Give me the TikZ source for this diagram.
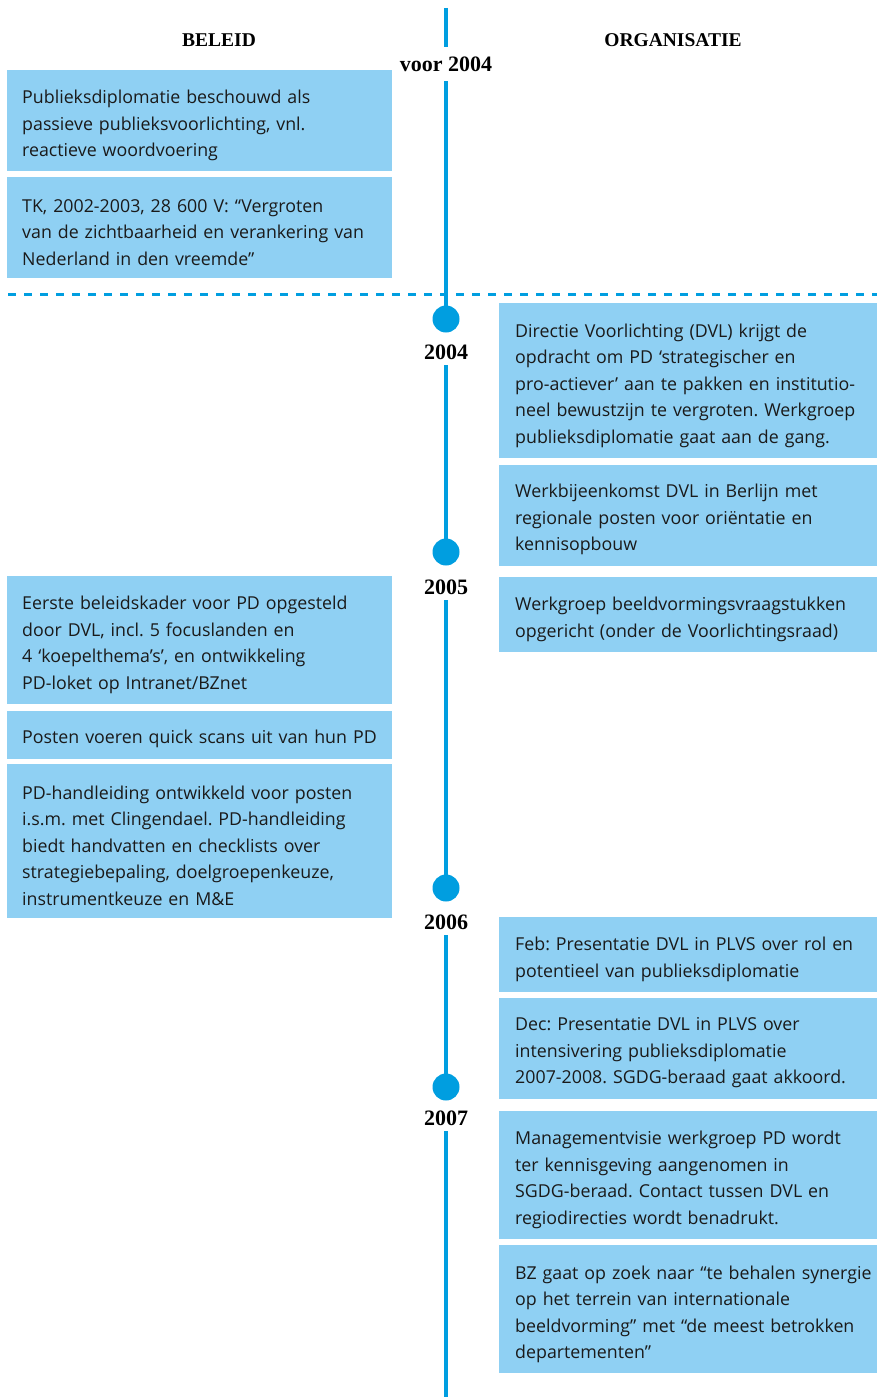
\documentclass[tikz,border=0pt]{standalone}
\usepackage{fontspec}
\setmainfont{Open Sans}
\newfontfamily\kopfont{Liberation Serif}
\usepackage{tikz}
\usetikzlibrary{positioning}

\definecolor{lijnblauw}{RGB}{0,158,224}
\definecolor{vakblauw}{RGB}{143,208,243}
\definecolor{tekstgrijs}{RGB}{26,26,26}

\tikzset{
	vak/.style={fill=vakblauw, anchor=north west, inner ysep=0pt, align=left,
		text=tekstgrijs, font=\fontsize{17.8}{26.5}\selectfont\frenchspacing,
		execute at begin node=\rule{0pt}{23pt}},
	lvak/.style={vak, inner xsep=15pt, text width=355pt},
	rvak/.style={vak, inner xsep=16pt, text width=372pt},
	kop/.style={font=\kopfont\bfseries\fontsize{19.5}{22}\selectfont},
	jaar/.style={font=\kopfont\bfseries\fontsize{22}{24}\selectfont, inner sep=0pt, minimum height=26pt},
	stip/.style={circle, fill=lijnblauw, minimum size=27pt, inner sep=0pt},
	tijdlijn/.style={draw=lijnblauw, line width=4pt},
}

\begin{document}
\begin{tikzpicture}[x=1pt, y=-1pt]
			
			\useasboundingbox (0,0) rectangle (877,1397);
			
			\def \xlijn {446} % x of the time line
			
			\node[kop] (beleid) at (219,40) {BELEID};
			\node[kop] (organisatie) at (673,40) {ORGANISATIE};
			
			% years on the time line
			\coordinate (lijnboven) at (\xlijn,8);
			\coordinate (lijnonder) at (\xlijn,1397);
			\node[jaar, minimum height=34pt] (voor) at (\xlijn,64) {voor 2004};
			\foreach \j/\ys/\yj in {2004/319/352, 2005/552/587, 2006/888/922, 2007/1087/1118}
			{
				\node[stip] (s\j) at (\xlijn,\ys) {};
				\node[jaar] (j\j) at (\xlijn,\yj) {\j};
			}
			\draw[tijdlijn] (lijnboven) -- (voor);
			\draw[tijdlijn] (voor) -- (s2004.center);
			\draw[tijdlijn] (j2004) -- (s2005.center);
			\draw[tijdlijn] (j2005) -- (s2006.center);
			\draw[tijdlijn] (j2006) -- (s2007.center);
			\draw[tijdlijn] (j2007) -- (lijnonder);
			
			\coordinate (grenslinks) at (8,294);
			\coordinate (grensrechts) at (877,294);
			\draw[lijnblauw, line width=3pt, dash pattern=on 8pt off 8pt] (grenslinks) -- (grensrechts);
			
			% beleid
			\node[lvak, minimum height=101pt] (beleid1) at (7,70)
				{Publieksdiplomatie beschouwd als\\passieve publieksvoorlichting, vnl.\\reactieve woordvoering};
			\node[lvak, minimum height=101pt, below=5pt of beleid1] (beleid2)
				{TK, 2002-2003, 28 600 V: “Vergroten\\van de zichtbaarheid en verankering van\\Nederland in den vreemde”};
			\node[lvak, minimum height=128pt] (beleid3) at (7,576)
				{Eerste beleidskader voor PD opgesteld\\door DVL, incl. 5 focuslanden en\\4 ‘koepelthema’s’, en ontwikkeling\\PD-loket op Intranet/BZnet};
			\node[lvak, minimum height=48pt, below=6pt of beleid3] (beleid4)
				{Posten voeren quick scans uit van hun PD};
			\node[lvak, minimum height=154pt, below=5pt of beleid4] (beleid5)
				{PD-handleiding ontwikkeld voor posten\\i.s.m. met Clingendael. PD-handleiding\\biedt handvatten en checklists over\\strategiebepaling, doelgroepenkeuze,\\instrumentkeuze en M\&E};
			
			% organisatie
			\node[rvak, minimum height=155pt] (org1) at (499,303)
				{Directie Voorlichting (DVL) krijgt de\\opdracht om PD ‘strategischer en\\pro-actiever’ aan te pakken en institutio-\\neel bewustzijn te vergroten. Werkgroep\\publieksdiplomatie gaat aan de gang.};
			\node[rvak, minimum height=101pt, below=6pt of org1] (org2)
				{Werkbijeenkomst DVL in Berlijn met\\regionale posten voor oriëntatie en\\kennisopbouw};
			\node[rvak, minimum height=75pt, below=11pt of org2] (org3)
				{Werkgroep beeldvormingsvraagstukken\\opgericht (onder de Voorlichtingsraad)};
			\node[rvak, minimum height=75pt] (org4) at (499,917)
				{Feb: Presentatie DVL in PLVS over rol en\\potentieel van publieksdiplomatie};
			\node[rvak, minimum height=101pt, below=5pt of org4] (org5)
				{Dec: Presentatie DVL in PLVS over\\intensivering publieksdiplomatie\\2007-2008. SGDG-beraad gaat akkoord.};
			\node[rvak, minimum height=128pt, below=12pt of org5] (org6)
				{Managementvisie werkgroep PD wordt\\ter kennisgeving aangenomen in\\SGDG-beraad. Contact tussen DVL en\\regiodirecties wordt benadrukt.};
			\node[rvak, minimum height=128pt, below=6pt of org6] (org7)
				{BZ gaat op zoek naar “te behalen synergie\\op het terrein van internationale\\beeldvorming” met “de meest betrokken\\departementen”};
			
\end{tikzpicture}
\end{document}
